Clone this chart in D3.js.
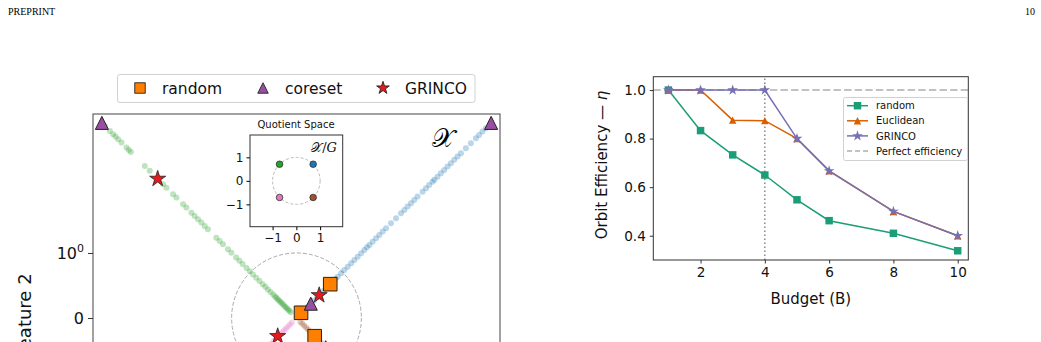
<!DOCTYPE html>
<html>
<head>
<meta charset="utf-8">
<script src="https://cdn.jsdelivr.net/npm/d3@7"></script>
<style>
  body { margin: 0; background: #fff; }
  svg { display: block; }
</style>
</head>
<body>
<div id="chart"></div>
<script>
// ---- data: right panel (orbit efficiency vs budget) ----
const budgets = [1, 2, 3, 4, 5, 6, 8, 10];
const randomEff = [1.0, 0.833, 0.733, 0.65, 0.548, 0.462, 0.41, 0.338];
const euclideanEff = [1.0, 1.0, 0.876, 0.874, 0.8, 0.667, 0.5, 0.4];
const grincoEff = [1.0, 1.0, 1.0, 1.0, 0.8, 0.667, 0.5, 0.4];
const budgetTicks = [2, 4, 6, 8, 10];
const effTicks = [0.4, 0.6, 0.8, 1.0];

// ---- data: left panel (orbits in feature space, symlog axes) ----
// distance of each sample from the origin along its orbit branch
const blueOrbit = [0.12, 0.17, 0.22, 0.27, 0.32, 0.37, 0.42, 0.47, 0.52, 0.57, 0.6,
  0.635, 0.688, 0.738, 0.789, 0.842, 0.892, 0.943, 0.995, 1.11, 1.22, 1.33, 1.49, 1.68,
  1.89, 2.13, 2.4, 2.86, 3.42, 4.08, 4.59, 5.16, 5.82, 6.53, 7.35, 8.77, 9.89, 11.1,
  12.5, 13.3, 14.9, 16.8, 18.9, 21.3, 24.0, 27.0, 30.3, 34.2, 40.8, 48.7, 58.2, 65.3,
  73.5, 82.8];
const greenOrbit = [0.09, 0.11, 0.13, 0.15, 0.17, 0.19, 0.21, 0.23, 0.25, 0.27, 0.29,
  0.31, 0.33, 0.36, 0.4, 0.44, 0.48, 0.52, 0.57, 0.62, 0.67, 0.72, 0.77, 0.83, 0.88,
  0.93, 1.01, 1.14, 1.36, 1.53, 1.72, 2.32, 2.6, 2.93, 3.3, 3.71, 4.17, 4.98, 5.6, 7.1,
  8.0, 10.1, 11.4, 18.3, 21.8, 35.8, 38.4, 41.7, 49.8, 56.1, 61.5, 67.0, 75.3, 89.9];
const pinkOrbit = [0.07, 0.1, 0.13, 0.16, 0.19, 0.22, 0.25, 0.28, 0.31, 0.35, 0.4, 0.45,
  0.5, 0.56, 0.62, 0.7];
const brownOrbit = [0.06, 0.09, 0.12, 0.15, 0.18, 0.21, 0.24, 0.27, 0.3, 0.34, 0.38,
  0.43, 0.48, 0.54, 0.6, 0.68];
const randomPicks = [[0.52, 0.52], [0.07, 0.08], [0.28, -0.28]];
const coresetPicks = [[-100, 100], [100, 100], [0.22, 0.22], [0.45, -0.45]];
const grincoPicks = [[-13.8, 13.8], [0.35, 0.35], [-0.29, -0.28]];
const mainYTicks = [-1, 0, 1];
const quotientPoints = [[-0.707, 0.707], [0.707, 0.707], [-0.707, -0.707], [0.707, -0.707]];
const quotientTicks = [-1, 0, 1];

const W = 1041, H = 342;
const svg = d3.select("#chart").append("svg")
    .attr("width", W)
    .attr("height", H)
    .style("font-family", "DejaVu Sans, sans-serif");

// page header
svg.append("text").attr("x", 8).attr("y", 15)
    .attr("font-family", "Liberation Serif, serif").attr("font-size", 10)
    .text("PREPRINT");
svg.append("text").attr("x", 1035).attr("y", 15).attr("text-anchor", "end")
    .attr("font-family", "Liberation Serif, serif").attr("font-size", 10)
    .text("10");

// custom marker shapes (matplotlib style triangle)
const triangleMpl = {
    draw(ctx, size) {
        const r = Math.sqrt(size) / 2;
        ctx.moveTo(0, -r);
        ctx.lineTo(r, r);
        ctx.lineTo(-r, r);
        ctx.closePath();
    }
};
const squareSym = d3.symbol().type(d3.symbolSquare);
const triSym = d3.symbol().type(triangleMpl);
const starSym = d3.symbol().type(d3.symbolStar);

// ================= LEFT PANEL =================
const symlog = v => {
    const a = Math.abs(v);
    return Math.sign(v) * (a <= 1 ? a : 1 + Math.log10(a));
};
const lim = symlog(137);
const mx = d3.scaleLinear().domain([-lim, lim]).range([93, 500]);
const my = d3.scaleLinear().domain([-lim, lim]).range([522, 114]);
const px = v => mx(symlog(v));
const py = v => my(symlog(v));

svg.append("clipPath").attr("id", "mainClip")
    .append("rect").attr("x", 93).attr("y", 114).attr("width", 407).attr("height", 408);

const main = svg.append("g").attr("clip-path", "url(#mainClip)");

// unit circle (dashed)
main.append("ellipse")
    .attr("cx", px(0)).attr("cy", py(0))
    .attr("rx", px(1) - px(0)).attr("ry", py(0) - py(1))
    .attr("fill", "none").attr("stroke", "#aaa").attr("stroke-width", 1)
    .attr("stroke-dasharray", "4,2");

const branches = [
    { values: greenOrbit, color: "#2ca02c", dx: -1, dy: 1 },
    { values: blueOrbit, color: "#1f77b4", dx: 1, dy: 1 },
    { values: pinkOrbit, color: "#e377c2", dx: -1, dy: -1 },
    { values: brownOrbit, color: "#a0522d", dx: 1, dy: -1 }
];
branches.forEach(b => {
    main.append("g").selectAll("circle")
        .data(b.values)
        .join("circle")
        .attr("cx", d => px(b.dx * d))
        .attr("cy", d => py(b.dy * d))
        .attr("r", 3)
        .attr("fill", b.color)
        .attr("opacity", 0.3);
});

main.append("g").selectAll("path")
    .data(randomPicks)
    .join("path")
    .attr("transform", d => `translate(${px(d[0])},${py(d[1])})`)
    .attr("d", squareSym.size(185)())
    .attr("fill", "#ff7f00").attr("stroke", "#222").attr("stroke-width", 1);

main.append("g").selectAll("path")
    .data(coresetPicks)
    .join("path")
    .attr("transform", d => `translate(${px(d[0])},${py(d[1])})`)
    .attr("d", triSym.size(170)())
    .attr("fill", "#984ea3").attr("stroke", "#222").attr("stroke-width", 1);

main.append("g").selectAll("path")
    .data(grincoPicks)
    .join("path")
    .attr("transform", d => `translate(${px(d[0])},${py(d[1])})`)
    .attr("d", starSym.size(80)())
    .attr("fill", "#e41a1c").attr("stroke", "#222").attr("stroke-width", 0.8);

// big calligraphic X label
svg.append("text").attr("x", 443).attr("y", 147).attr("text-anchor", "middle")
    .attr("font-size", 26)
    .attr("font-family", "DejaVu Serif, serif")
    .text("\u{1D4B3}");

// frame
svg.append("rect").attr("x", 93).attr("y", 114).attr("width", 407).attr("height", 408)
    .attr("fill", "none").attr("stroke", "#444").attr("stroke-width", 1);

// y axis
const yAxisMain = svg.append("g")
    .attr("transform", "translate(93,0)")
    .call(d3.axisLeft(my).tickValues(mainYTicks.map(symlog)).tickSize(5).tickPadding(4).tickFormat(""));
yAxisMain.select(".domain").remove();
yAxisMain.selectAll(".tick line").attr("stroke", "#333");
yAxisMain.selectAll(".tick").each(function(d) {
    const t = d3.select(this).select("text")
        .attr("font-size", 16).attr("fill", "#111").attr("font-family", "DejaVu Sans");
    if (d === 0) {
        t.text("0");
    } else {
        t.text("");
        if (d < 0) t.append("tspan").text("\u2212");
        t.append("tspan").text("10");
        t.append("tspan").attr("font-size", 11).attr("dy", -7).text("0");
    }
});

svg.append("text")
    .attr("transform", "translate(31,316) rotate(-90)")
    .attr("text-anchor", "middle").attr("font-size", 18).attr("fill", "#111")
    .text("Feature 2");

// legend
const lg = svg.append("g");
lg.append("rect").attr("x", 117.5).attr("y", 74.5).attr("width", 357.5).attr("height", 28)
    .attr("rx", 2.5).attr("fill", "#fff").attr("stroke", "#d0d0d0").attr("stroke-width", 1);
const legendItems = [
    { label: "random", sym: squareSym.size(110)(), fill: "#ff7f00", x: 140 },
    { label: "coreset", sym: triSym.size(110)(), fill: "#984ea3", x: 263 },
    { label: "GRINCO", sym: starSym.size(50)(), fill: "#e41a1c", x: 383 }
];
legendItems.forEach(it => {
    lg.append("path").attr("transform", `translate(${it.x},88)`).attr("d", it.sym)
        .attr("fill", it.fill).attr("stroke", "#222").attr("stroke-width", 0.9);
    lg.append("text").attr("x", it.x + 22).attr("y", 93.5)
        .attr("font-size", 15.5).attr("fill", "#111").text(it.label);
});

// ---- inset: quotient space ----
const ix = d3.scaleLinear().domain([-1.95, 1.95]).range([250, 342.7]);
const iy = d3.scaleLinear().domain([-1.95, 1.95]).range([226.7, 135]);
const inset = svg.append("g");
inset.append("rect").attr("x", 250).attr("y", 135).attr("width", 92.7).attr("height", 91.7)
    .attr("fill", "#fff");
inset.append("ellipse")
    .attr("cx", ix(0)).attr("cy", iy(0))
    .attr("rx", ix(1) - ix(0)).attr("ry", iy(0) - iy(1))
    .attr("fill", "none").attr("stroke", "#aaa").attr("stroke-width", 0.8)
    .attr("stroke-dasharray", "3,2");
const qColors = ["#2ca02c", "#1f77b4", "#e377c2", "#a0522d"];
inset.selectAll("circle.q")
    .data(quotientPoints)
    .join("circle")
    .attr("class", "q")
    .attr("cx", d => ix(d[0])).attr("cy", d => iy(d[1]))
    .attr("r", 3.3)
    .attr("fill", (d, i) => qColors[i])
    .attr("stroke", "#222").attr("stroke-width", 0.7);
inset.append("rect").attr("x", 250).attr("y", 135).attr("width", 92.7).attr("height", 91.7)
    .attr("fill", "none").attr("stroke", "#333").attr("stroke-width", 1);
const fmtQ = d => d < 0 ? "\u2212" + Math.abs(d) : String(d);
const iya = inset.append("g").attr("transform", "translate(250,0)")
    .call(d3.axisLeft(iy).tickValues(quotientTicks).tickSize(3.5).tickPadding(3).tickFormat(fmtQ));
const ixa = inset.append("g").attr("transform", "translate(0,226.7)")
    .call(d3.axisBottom(ix).tickValues(quotientTicks).tickSize(3.5).tickPadding(3).tickFormat(fmtQ));
[iya, ixa].forEach(a => {
    a.select(".domain").remove();
    a.selectAll("text").attr("font-size", 12).attr("fill", "#111").attr("font-family", "DejaVu Sans");
});
inset.append("text").attr("x", 296).attr("y", 128).attr("text-anchor", "middle")
    .attr("font-size", 10).attr("fill", "#111").text("Quotient Space");
const ql = inset.append("text").attr("x", 337).attr("y", 152).attr("text-anchor", "end")
    .attr("font-size", 13).attr("fill", "#111").attr("font-family", "DejaVu Serif, serif");
ql.append("tspan").text("\u{1D4B3}");
ql.append("tspan").text("/");
ql.append("tspan").attr("font-style", "italic").text("G");

// ================= RIGHT PANEL =================
const rx = d3.scaleLinear().domain([0.53, 10.33]).range([653.3, 968.3]);
const ry = d3.scaleLinear().domain([0.3, 1.055]).range([260, 76.7]);
const right = svg.append("g");

right.append("line")
    .attr("x1", rx.range()[0]).attr("x2", rx.range()[1])
    .attr("y1", ry(1.0)).attr("y2", ry(1.0))
    .attr("stroke", "#c2c2c2").attr("stroke-width", 2).attr("stroke-dasharray", "7.4,3.2");
right.append("line")
    .attr("x1", rx(4)).attr("x2", rx(4))
    .attr("y1", ry.range()[0]).attr("y2", ry.range()[1])
    .attr("stroke", "#888").attr("stroke-width", 1.5).attr("stroke-dasharray", "1.5,2.5");

const series = [
    { name: "random", values: randomEff, color: "#1b9e77", sym: squareSym.size(56)() },
    { name: "Euclidean", values: euclideanEff, color: "#d95f02", sym: triSym.size(55)() },
    { name: "GRINCO", values: grincoEff, color: "#7570b3", sym: starSym.size(36)() }
];
const line = d3.line().x((d, i) => rx(budgets[i])).y(d => ry(d));
series.forEach(s => {
    right.append("path").datum(s.values)
        .attr("d", line).attr("fill", "none")
        .attr("stroke", s.color).attr("stroke-width", 1.5);
    right.append("g").selectAll("path")
        .data(s.values)
        .join("path")
        .attr("transform", (d, i) => `translate(${rx(budgets[i])},${ry(d)})`)
        .attr("d", s.sym)
        .attr("fill", s.color);
});

right.append("rect").attr("x", 653.3).attr("y", 76.7).attr("width", 315).attr("height", 183.3)
    .attr("fill", "none").attr("stroke", "#333").attr("stroke-width", 1);

const rxa = right.append("g").attr("transform", "translate(0,260)")
    .call(d3.axisBottom(rx).tickValues(budgetTicks).tickSize(3.5).tickPadding(4));
const rya = right.append("g").attr("transform", "translate(653.3,0)")
    .call(d3.axisLeft(ry).tickValues(effTicks).tickSize(3.5).tickPadding(4).tickFormat(d3.format(".1f")));
[rxa, rya].forEach(a => {
    a.select(".domain").remove();
    a.selectAll(".tick line").attr("stroke", "#333");
    a.selectAll("text").attr("font-size", 13.6).attr("fill", "#111").attr("font-family", "DejaVu Sans");
});

right.append("text").attr("x", 810.8).attr("y", 304).attr("text-anchor", "middle")
    .attr("font-size", 15).attr("fill", "#111").text("Budget (B)");
const ylab = right.append("text")
    .attr("transform", "translate(607,165) rotate(-90)")
    .attr("text-anchor", "middle").attr("font-size", 15).attr("fill", "#111");
ylab.append("tspan").text("Orbit Efficiency \u2014 ");
ylab.append("tspan").attr("font-style", "italic").text("\u03b7");

// right legend
const rl = right.append("g");
rl.append("rect").attr("x", 843.5).attr("y", 97.5).attr("width", 124).attr("height", 63)
    .attr("rx", 2).attr("fill", "#fff").attr("fill-opacity", 0.8)
    .attr("stroke", "#d0d0d0").attr("stroke-width", 1);
const rlItems = series.map(s => ({ label: s.name, color: s.color, sym: s.sym, dash: null }))
    .concat([{ label: "Perfect efficiency", color: "#c2c2c2", sym: null, dash: "5,3" }]);
rlItems.forEach((it, i) => {
    const y = 105.7 + i * 15.1;
    rl.append("line").attr("x1", 847).attr("x2", 868).attr("y1", y).attr("y2", y)
        .attr("stroke", it.color).attr("stroke-width", it.dash ? 2 : 1.5)
        .attr("stroke-dasharray", it.dash);
    if (it.sym) {
        rl.append("path").attr("transform", `translate(857.5,${y})`).attr("d", it.sym)
            .attr("fill", it.color);
    }
    rl.append("text").attr("x", 876).attr("y", y + 3.6)
        .attr("font-size", 10).attr("fill", "#111").text(it.label);
});
</script>
</body>
</html>
